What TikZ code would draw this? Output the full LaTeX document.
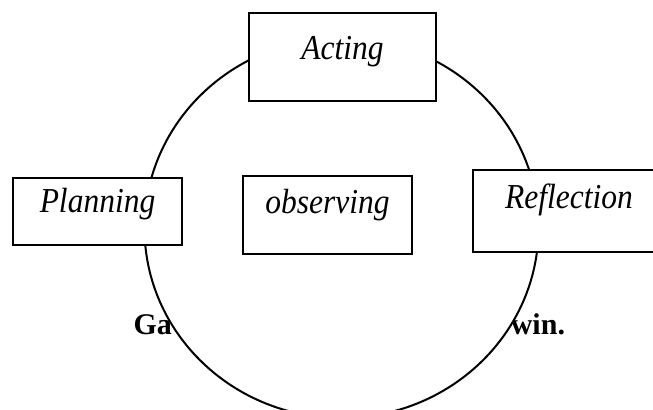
\documentclass[tikz,border=0pt]{standalone}
\usepackage{fontspec}
\setmainfont{Liberation Serif}
\newfontfamily\boxfont[FakeStretch=0.9]{Liberation Serif}
\usetikzlibrary{shapes.geometric}
\begin{document}
\begin{tikzpicture}[x=0.5pt, y=-0.5pt, line width=1pt,
  phase/.style={draw, fill=white, inner sep=0pt, font=\boxfont\fontsize{17.5}{21}\selectfont\itshape},
  caption/.style={inner sep=0pt, font=\fontsize{15}{18}\selectfont\bfseries}]
\useasboundingbox (0,0) rectangle (653,410);
\node[caption, anchor=base west] (capl) at (132.5,335) {Ga};
\node[caption, anchor=base east] (capr) at (566,335) {win.};
\node[draw, ellipse, fill=white, inner sep=0pt, minimum width=197pt, minimum height=190pt] (cycle) at (341.5,228) {};
\node[phase, minimum width=93.5pt, text height=23.5pt, text depth=20.5pt] (act) at (342.5,57) {Acting};
\node[phase, minimum width=84.5pt, text height=17.5pt, text depth=16pt] (plan) at (97.5,211.5) {Planning};
\node[phase, minimum width=84.5pt, text height=19pt, text depth=20pt] (obs) at (327.5,215) {observing};
\node[phase, minimum width=96pt, text height=19.5pt, text depth=21.5pt] (refl) at (569,211) {Reflection};
\end{tikzpicture}
\end{document}
